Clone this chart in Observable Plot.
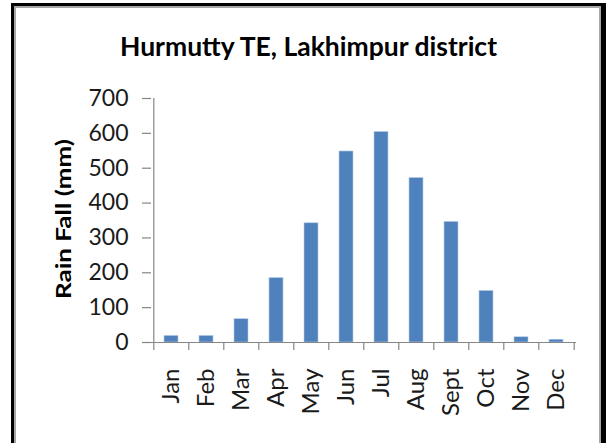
<!DOCTYPE html>
<html>
<head>
<meta charset="utf-8">
<script src="https://cdn.jsdelivr.net/npm/d3@7"></script>
<script src="https://cdn.jsdelivr.net/npm/@observablehq/plot@0.6"></script>
<style>
  html, body { margin: 0; padding: 0; background: #fff; }
  body { width: 606px; height: 443px; position: relative; overflow: hidden; font-family: Lato, "Open Sans", sans-serif; }
  #frame { position: absolute; left: 11px; top: 3px; width: 587px; height: 460px;
    border-left: 3px solid #000; border-top: 3px solid #000; border-right: 5px solid #000;
    box-shadow: inset 2px 2px 0 #a6a6a6, inset -2px 0 0 #a6a6a6; box-sizing: content-box; }
  #title { position: absolute; left: 11px; width: 595px; top: 33px; text-align: center;
    font-weight: bold; font-size: 26.5px; color: #000; line-height: 1; white-space: nowrap; }
  #ylabel { position: absolute; left: 62.5px; top: 219px; transform: translate(-50%, -50%) rotate(-90deg) scaleX(1.3);
    white-space: nowrap; font-weight: bold; font-size: 20px; color: #000; line-height: 1; }
  #chart { position: absolute; left: 0; top: 0; }
</style>
</head>
<body>
<div id="frame"></div>
<div id="chart"></div>
<div id="title">Hurmutty TE, Lakhimpur district</div>
<div id="ylabel">Rain Fall (mm)</div>
<script>
const months = ["Jan","Feb","Mar","Apr","May","Jun","Jul","Aug","Sept","Oct","Nov","Dec"];
const rainfall = [19, 19, 67, 185, 342, 548, 604, 472, 346, 148, 15, 8];
const yTicks = [0, 100, 200, 300, 400, 500, 600, 700];

const data = months.map((m, i) => ({month: m, rain: rainfall[i]}));

const W = 606, H = 443, mL = 151, mR = 30, mT = 98, mB = 101;
const step = (W - mL - mR) / months.length;
const axisColor = "#868686";

const chart = Plot.plot({
  width: W, height: H,
  marginLeft: mL, marginRight: mR, marginTop: mT, marginBottom: mB,
  style: {fontFamily: "Lato, 'Open Sans', sans-serif", background: "transparent"},
  x: {domain: months, paddingInner: 0.6, paddingOuter: 0.3, axis: null},
  y: {domain: [0, 700], axis: null},
  marks: [
    Plot.barY(data, {x: "month", y: "rain", fill: "#4F81BD", stroke: "#B9CDE5", strokeWidth: 0.6}),
    Plot.ruleY([0], {stroke: axisColor, strokeWidth: 1.2}),
    Plot.ruleX([months[0]], {x: d => d, y1: 0, y2: 700, dx: -step / 2, stroke: axisColor, strokeWidth: 1.2}),
    Plot.ruleX(months, {x: d => d, y1: 0, y2: 0, insetBottom: -8, dx: -step / 2, stroke: axisColor, strokeWidth: 1.2}),
    Plot.ruleX([months[months.length - 1]], {x: d => d, y1: 0, y2: 0, insetBottom: -8, dx: step / 2, stroke: axisColor, strokeWidth: 1.2}),
    Plot.axisY({ticks: yTicks, tickSize: 9, tickPadding: 14, stroke: axisColor, strokeWidth: 1.2, strokeOpacity: 1, fill: "#1a1a1a", fontSize: 23, label: null}),
    Plot.axisX({tickSize: 0, tickPadding: 26, tickRotate: -90, fill: "#1a1a1a", fontSize: 24, label: null})
  ]
});
document.getElementById("chart").appendChild(chart);
</script>
</body>
</html>
